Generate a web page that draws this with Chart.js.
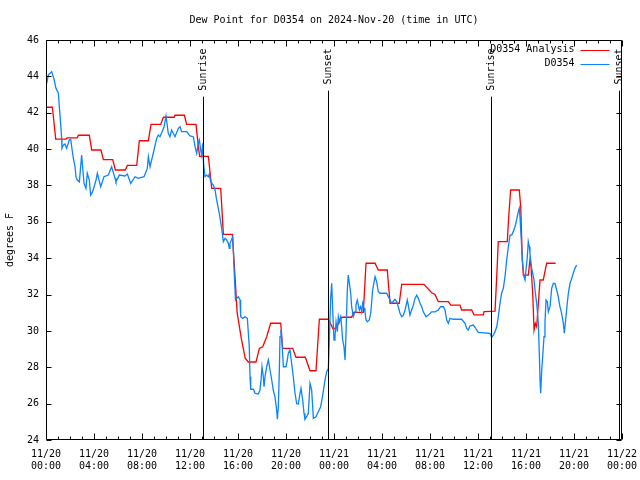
<!DOCTYPE html>
<html>
<head>
<meta charset="utf-8">
<script src="https://cdn.jsdelivr.net/npm/chart.js@4.4.1/dist/chart.umd.min.js"></script>
<style>
  html, body { margin: 0; padding: 0; background: #fff; }
</style>
</head>
<body>
<canvas id="c" width="640" height="480"></canvas>
<script>
// hours since 2024-11-20 00:00 UTC
const analysisHours = [
  0, 0.53, 0.81, 1.67, 1.75, 2.6, 2.7, 3.61, 3.81, 4.58,
  4.78, 5.56, 5.78, 6.61, 6.78, 7.56, 7.78, 8.53, 8.75, 9.56,
  9.78, 10.67, 10.75, 11.53, 11.72, 12.5, 12.62, 12.78, 12.8, 13.53,
  13.81, 14.56, 14.78, 15.53, 15.75, 15.93, 16.1, 16.27, 16.45, 16.6,
  16.86, 17.5, 17.78, 18.06, 18.39, 18.72, 19.56, 19.72, 20.56, 20.83,
  21.61, 22.0, 22.5, 22.78, 23.53, 23.94, 24.2, 24.64, 25.47, 25.64,
  26.44, 26.67, 27.42, 27.69, 28.44, 28.67, 29.44, 29.64, 31.5, 32.14,
  32.42, 32.69, 33.53, 33.73, 34.5, 34.64, 35.47, 35.67, 36.44, 36.5,
  37.42, 37.56, 37.69, 38.44, 38.56, 38.72, 39.44, 39.56, 39.69, 39.78,
  40.19, 40.33, 40.42, 40.56, 40.67, 40.78, 40.89, 41.03, 41.17, 41.44,
  41.58, 41.72, 42.47
];
const analysisTemps = [
  42.3, 42.3, 40.55, 40.55, 40.62, 40.62, 40.76, 40.76, 39.95, 39.95,
  39.42, 39.42, 38.85, 38.85, 39.1, 39.1, 40.46, 40.46, 41.36, 41.36,
  41.75, 41.75, 41.86, 41.86, 41.36, 41.36, 40.6, 39.7, 39.6, 39.6,
  37.84, 37.84, 35.31, 35.31, 33.0, 31.0, 30.3, 29.6, 29.0, 28.5,
  28.29, 28.29, 29.04, 29.13, 29.68, 30.42, 30.42, 29.04, 29.04, 28.55,
  28.55, 27.81, 27.81, 30.64, 30.64, 30.09, 30.2, 30.75, 30.75, 31.02,
  31.02, 33.72, 33.72, 33.35, 33.35, 31.52, 31.52, 32.56, 32.56, 32.1,
  32.0, 31.61, 31.61, 31.42, 31.42, 31.15, 31.15, 30.88, 30.88, 31.06,
  31.09, 32.98, 34.91, 34.91, 36.28, 37.75, 37.75, 36.83, 33.9, 33.07,
  33.07, 33.9, 33.53, 32.07, 30.05, 30.42, 30.23, 31.52, 32.8, 32.8,
  33.26, 33.72, 33.72
];

const obsHours = [
  0.06, 0.19, 0.47, 0.67, 0.83, 1.03, 1.11, 1.22, 1.31, 1.33,
  1.44, 1.58, 1.72, 1.94, 2.06, 2.14, 2.28, 2.42, 2.5, 2.61,
  2.78, 2.97, 3.17, 3.33, 3.44, 3.61, 3.72, 3.89, 4.17, 4.28,
  4.56, 4.83, 5.19, 5.47, 5.75, 5.83, 6.11, 6.58, 6.78, 7.06,
  7.42, 7.69, 8.17, 8.44, 8.53, 8.67, 8.94, 9.22, 9.36, 9.5,
  9.83, 10.0, 10.19, 10.33, 10.47, 10.75, 11.03, 11.17, 11.31, 11.72,
  12.0, 12.28, 12.42, 12.56, 12.69, 12.78, 12.89, 12.97, 13.06, 13.11,
  13.17, 13.25, 13.39, 13.53, 13.61, 13.72, 13.94, 14.08, 14.22, 14.44,
  14.64, 14.78, 14.92, 15.06, 15.19, 15.28, 15.33, 15.56, 15.61, 15.67,
  15.75, 15.79, 15.89, 16.03, 16.17, 16.22, 16.39, 16.58, 16.78, 16.94,
  17.0, 17.06, 17.28, 17.42, 17.69, 17.83, 17.92, 18.0, 18.11, 18.17,
  18.25, 18.39, 18.53, 18.67, 18.81, 18.94, 19.08, 19.22, 19.28, 19.36,
  19.44, 19.5, 19.58, 19.67, 19.78, 20.0, 20.11, 20.19, 20.33, 20.47,
  20.61, 20.75, 20.89, 21.03, 21.17, 21.25, 21.39, 21.5, 21.58, 21.72,
  21.86, 22.0, 22.14, 22.28, 22.5, 22.69, 22.89, 23.06, 23.25, 23.39,
  23.53, 23.61, 23.72, 23.81, 23.89, 24.0, 24.08, 24.17, 24.28, 24.36,
  24.44, 24.56, 24.64, 24.72, 24.83, 24.92, 25.0, 25.11, 25.19, 25.28,
  25.39, 25.47, 25.61, 25.75, 25.83, 25.94, 26.03, 26.11, 26.22, 26.31,
  26.39, 26.5, 26.58, 26.67, 26.78, 26.94, 27.06, 27.22, 27.42, 27.56,
  27.69, 27.83, 28.39, 28.53, 28.67, 28.81, 29.08, 29.22, 29.36, 29.5,
  29.64, 29.78, 29.92, 30.11, 30.19, 30.33, 30.47, 30.61, 30.75, 30.89,
  31.03, 31.17, 31.31, 31.44, 31.67, 31.86, 32.14, 32.42, 32.69, 32.89,
  33.11, 33.25, 33.39, 33.53, 33.67, 33.94, 34.64, 34.92, 35.06, 35.19,
  35.33, 35.61, 35.75, 35.89, 36.03, 37.0, 37.14, 37.28, 37.42, 37.56,
  37.69, 37.83, 37.97, 38.11, 38.25, 38.39, 38.53, 38.67, 38.81, 38.94,
  39.08, 39.22, 39.36, 39.44, 39.5, 39.56, 39.64, 39.72, 39.83, 39.92,
  40.0, 40.11, 40.19, 40.28, 40.33, 40.39, 40.47, 40.56, 40.67, 40.75,
  40.89, 41.03, 41.11, 41.17, 41.22, 41.31, 41.39, 41.5, 41.58, 41.67,
  41.78, 41.86, 42.0, 42.14, 42.28, 42.42, 42.56, 42.69, 42.83, 42.97,
  43.11, 43.19, 43.33, 43.44, 43.53, 43.67, 43.81, 43.94, 44.08, 44.22
];
const obsTemps = [
  43.62, 44.07, 44.26, 43.84, 43.34, 43.07, 42.33, 41.42, 40.5, 40.04,
  40.22, 40.28, 40.04, 40.5, 40.54, 40.13, 39.49, 39.03, 38.48, 38.3,
  38.2, 39.67, 38.11, 37.84, 38.67, 38.3, 37.47, 37.66, 38.3, 38.67,
  37.93, 38.48, 38.57, 39.03, 38.39, 38.2, 38.57, 38.52, 38.63, 38.11,
  38.48, 38.39, 38.48, 38.94, 39.58, 39.03, 39.77, 40.59, 40.77, 40.68,
  41.2, 41.82, 40.87, 40.68, 41.05, 40.68, 41.14, 41.23, 40.96, 40.96,
  40.72, 40.68, 40.13, 39.77, 40.32, 40.5, 39.95, 39.67, 40.32, 39.4,
  38.94, 38.48, 38.57, 38.48, 38.63, 38.2, 38.02, 37.79, 37.2, 36.47,
  35.64, 34.91, 35.09, 35.0, 34.82, 34.54, 34.82, 35.18, 34.45, 33.44,
  32.25, 31.7, 31.79, 31.88, 31.7, 30.78, 30.69, 30.78, 30.69, 29.13,
  27.48, 26.79, 26.79, 26.57, 26.53, 26.75, 27.3, 28.03, 27.48, 26.93,
  27.48, 28.03, 28.4, 27.85, 27.3, 26.75, 26.38, 25.65, 25.14, 25.83,
  27.67, 29.68, 30.05, 29.32, 28.03, 28.03, 28.4, 28.77, 28.95, 28.22,
  27.48, 26.57, 26.0, 25.98, 26.57, 26.84, 26.2, 25.47, 25.14, 25.28,
  25.47, 27.12, 26.75, 25.19, 25.28, 25.55, 25.83, 26.47, 27.3, 27.76,
  27.94, 29.5, 31.79, 32.62, 31.15, 29.5, 29.68, 30.5, 29.96, 30.78,
  30.5, 30.78, 30.23, 29.5, 29.13, 28.4, 29.87, 32.25, 33.07, 32.62,
  32.07, 31.33, 30.78, 31.05, 31.42, 31.7, 31.42, 31.15, 31.33, 31.05,
  31.52, 31.24, 31.05, 30.6, 30.5, 30.6, 30.97, 32.25, 32.98, 32.7,
  32.16, 32.07, 32.07, 31.88, 31.7, 31.52, 31.74, 31.61, 31.33, 30.97,
  30.78, 30.87, 31.15, 31.7, 31.42, 30.87, 31.15, 31.42, 31.79, 31.97,
  31.79, 31.52, 31.33, 31.05, 30.78, 30.87, 31.05, 31.05, 31.15, 31.33,
  31.33, 31.15, 30.6, 30.42, 30.69, 30.64, 30.64, 30.42, 30.14, 30.05,
  30.27, 30.32, 30.2, 30.05, 29.92, 29.87, 29.64, 29.77, 29.96, 30.23,
  30.78, 31.52, 32.07, 32.34, 32.98, 33.9, 34.63, 35.27, 35.27, 35.46,
  35.73, 36.1, 36.56, 36.74, 36.28, 35.55, 34.63, 33.72, 32.98, 32.8,
  33.35, 34.08, 34.91, 34.63, 34.27, 33.9, 33.44, 33.17, 32.8, 32.25,
  31.52, 30.42, 28.77, 27.3, 26.57, 27.85, 28.58, 29.68, 30.42, 31.7,
  31.61, 31.05, 31.33, 32.34, 32.62, 32.6, 32.25, 31.88, 31.33, 30.97,
  30.42, 29.87, 30.78, 31.52, 32.07, 32.62, 32.89, 33.17, 33.44, 33.62
];

// sunrise / sunset markers (hours)
const sunHours = [13.11, 23.53, 37.11, 47.78];
const sunLabels = ['Sunrise', 'Sunset', 'Sunrise', 'Sunset'];

const yTicks = [24, 26, 28, 30, 32, 34, 36, 38, 40, 42, 44, 46];
const xTicks = [0, 4, 8, 12, 16, 20, 24, 28, 32, 36, 40, 44, 48];

const chartTitle = 'Dew Point for D0354 on 2024-Nov-20 (time in UTC)';
const seriesNames = ['D0354 Analysis', 'D0354'];
const seriesColors = ['#ff0000', '#0a84ff'];

const FONT = "'DejaVu Sans Mono', monospace";

function xLabel(h) {
  const day = 20 + Math.floor(h / 24);
  const hh = String(h % 24).padStart(2, '0');
  return ['11/' + day, hh + ':00'];
}

// gnuplot style frame, ticks, sun lines, title and key
const frame = {
  id: 'frame',
  afterDatasetsDraw(chart) {
    const { ctx, chartArea: a, scales } = chart;
    const x = scales.x, y = scales.y;
    const L = Math.round(a.left) + 0.5, R = Math.round(a.right) - 0.5;
    const T = Math.round(a.top) + 0.5, B = Math.round(a.bottom) - 0.5;
    ctx.save();
    ctx.strokeStyle = '#000';
    ctx.lineWidth = 1;
    ctx.beginPath();
    ctx.rect(L, T, R - L, B - T);
    for (let h = 0; h <= 48; h++) {
      const px = Math.round(x.getPixelForValue(h)) + 0.5;
      const len = h % 4 === 0 ? 6 : 3;
      ctx.moveTo(px, B); ctx.lineTo(px, B - len);
      ctx.moveTo(px, T); ctx.lineTo(px, T + len);
    }
    yTicks.forEach(v => {
      const py = Math.round(y.getPixelForValue(v)) + 0.5;
      ctx.moveTo(L, py); ctx.lineTo(L + 5, py);
      ctx.moveTo(R, py); ctx.lineTo(R - 5, py);
    });
    ctx.stroke();

    ctx.font = '10px ' + FONT;
    ctx.fillStyle = '#000';

    // title, centred over the plot
    ctx.textAlign = 'center';
    ctx.textBaseline = 'middle';
    ctx.fillText(chartTitle, (a.left + a.right) / 2, 20);

    // sunrise / sunset
    sunHours.forEach((h, i) => {
      const px = Math.round(x.getPixelForValue(h)) + 0.5;
      const w = ctx.measureText(sunLabels[i]).width;
      ctx.beginPath();
      ctx.moveTo(px, T + 8 + w + 6);
      ctx.lineTo(px, B);
      ctx.stroke();
      ctx.save();
      ctx.translate(px, T + 8);
      ctx.rotate(-Math.PI / 2);
      ctx.textAlign = 'right';
      ctx.textBaseline = 'middle';
      ctx.fillText(sunLabels[i], 0, 0);
      ctx.restore();
    });

    // key
    ctx.textAlign = 'right';
    ctx.textBaseline = 'middle';
    seriesNames.forEach((name, i) => {
      const ky = T + 9 + i * 14;
      ctx.fillStyle = '#000';
      ctx.fillText(name, R - 47, ky);
      ctx.strokeStyle = seriesColors[i];
      ctx.beginPath();
      ctx.moveTo(R - 41, Math.round(ky) + 0.5);
      ctx.lineTo(R - 12, Math.round(ky) + 0.5);
      ctx.stroke();
    });
    ctx.restore();
  }
};

new Chart(document.getElementById('c'), {
  type: 'line',
  data: {
    datasets: [
      {
        label: seriesNames[0],
        data: analysisHours.map((h, i) => ({ x: h, y: analysisTemps[i] })),
        borderColor: seriesColors[0],
        borderWidth: 1.3,
        pointRadius: 0,
        tension: 0,
        order: 1
      },
      {
        label: seriesNames[1],
        data: obsHours.map((h, i) => ({ x: h, y: obsTemps[i] })),
        borderColor: seriesColors[1],
        borderWidth: 1.3,
        pointRadius: 0,
        tension: 0,
        order: 0
      }
    ]
  },
  options: {
    responsive: false,
    animation: false,
    devicePixelRatio: 1,
    layout: { padding: { top: 40, right: 18, bottom: 0, left: 0 } },
    plugins: {
      legend: { display: false },
      tooltip: { enabled: false },
      title: { display: false }
    },
    scales: {
      x: {
        type: 'linear',
        min: 0,
        max: 48,
        grid: { display: false, drawTicks: false },
        border: { display: false },
        afterBuildTicks: s => { s.ticks = xTicks.map(v => ({ value: v })); },
        afterFit: s => { s.height = 40; s.paddingLeft = 0; s.paddingRight = 0; },
        ticks: {
          autoSkip: false,
          maxRotation: 0,
          padding: 8,
          color: '#000',
          font: { family: FONT, size: 10, lineHeight: 1.2 },
          callback: v => xLabel(v)
        }
      },
      y: {
        min: 24,
        max: 46,
        grid: { display: false, drawTicks: false },
        border: { display: false },
        afterBuildTicks: s => { s.ticks = yTicks.map(v => ({ value: v })); },
        afterFit: s => { s.width = 46; s.paddingTop = 0; s.paddingBottom = 0; },
        title: {
          display: true,
          text: 'degrees F',
          color: '#000',
          font: { family: FONT, size: 10 },
          padding: { top: 4, bottom: 0 }
        },
        ticks: {
          padding: 7,
          color: '#000',
          font: { family: FONT, size: 10 }
        }
      }
    }
  },
  plugins: [frame]
});
</script>
</body>
</html>
